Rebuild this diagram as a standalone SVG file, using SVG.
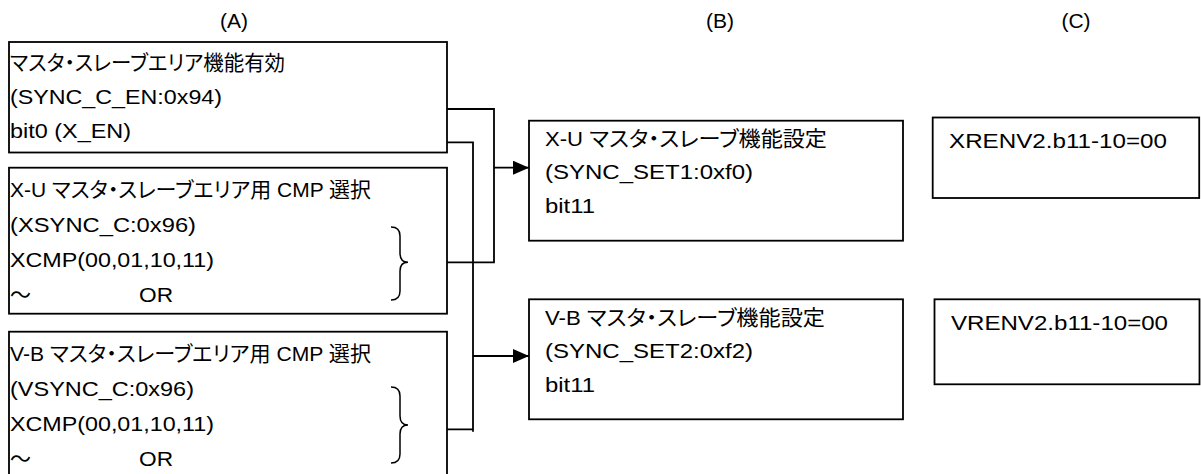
<svg xmlns="http://www.w3.org/2000/svg" width="1201" height="474" viewBox="0 0 1201 474">
<defs>
<style>
text{font-family:"Liberation Sans","Noto Sans CJK JP",sans-serif;fill:#000;font-size:21px;font-feature-settings:"palt"}
.lbl{text-anchor:middle}
.box{fill:#fff;stroke:#000;stroke-width:1.8}
.ln{fill:none;stroke:#000;stroke-width:1.8}
.br{fill:none;stroke:#000;stroke-width:1.5}
</style>
<marker id="arr" markerUnits="userSpaceOnUse" markerWidth="16" markerHeight="14" refX="16" refY="7" orient="auto">
<path d="M0,0 L16,7 L0,14 Z" fill="#000"/>
</marker>
</defs>
<rect width="1201" height="474" fill="#fff"/>
<g id="labels">
<text class="lbl" x="234" y="28">(A)</text>
<text class="lbl" x="720" y="28">(B)</text>
<text class="lbl" x="1076" y="28">(C)</text>
</g>
<g id="connectors">
<path class="ln" d="M447,109 H494 V262.3 H447"/>
<path class="ln" d="M447,142.3 H473 V431.7 M447,429.3 H473"/>
<path class="ln" d="M494,167.7 H529" marker-end="url(#arr)"/>
<path class="ln" d="M473,356 H529" marker-end="url(#arr)"/>
</g>
<g id="a1">
<rect class="box" x="9" y="42" width="438" height="110.5"/>
<text x="10" y="70" textLength="275" lengthAdjust="spacingAndGlyphs">マスタ・スレーブエリア機能有効</text>
<text x="10" y="104" textLength="212" lengthAdjust="spacingAndGlyphs">(SYNC_C_EN:0x94)</text>
<text x="10" y="138" textLength="121" lengthAdjust="spacingAndGlyphs">bit0 (X_EN)</text>
</g>
<g id="a2">
<rect class="box" x="9" y="167.7" width="438" height="146"/>
<text x="10" y="197" textLength="361" lengthAdjust="spacingAndGlyphs">X-U マスタ・スレーブエリア用 CMP 選択</text>
<text x="10" y="232" textLength="186" lengthAdjust="spacingAndGlyphs">(XSYNC_C:0x96)</text>
<text x="10" y="267" textLength="204" lengthAdjust="spacingAndGlyphs">XCMP(00,01,10,11)</text>
<text x="10" y="302">～</text>
<text x="139" y="302" textLength="34" lengthAdjust="spacingAndGlyphs">OR</text>
<path class="br" d="M391,227 Q400,227 400,236 V253 Q400,262.3 408,262.3 Q400,262.3 400,271 V291 Q400,300 391,300"/>
</g>
<g id="a3">
<rect class="box" x="9" y="331.7" width="438" height="160"/>
<text x="10" y="361" textLength="361" lengthAdjust="spacingAndGlyphs">V-B マスタ・スレーブエリア用 CMP 選択</text>
<text x="10" y="396" textLength="184" lengthAdjust="spacingAndGlyphs">(VSYNC_C:0x96)</text>
<text x="10" y="431" textLength="204" lengthAdjust="spacingAndGlyphs">XCMP(00,01,10,11)</text>
<text x="10" y="466">～</text>
<text x="139" y="466" textLength="34" lengthAdjust="spacingAndGlyphs">OR</text>
<path class="br" d="M391,387 Q400,387 400,396 V416 Q400,425 408,425 Q400,425 400,434 V454 Q400,463 391,463"/>
</g>
<g id="b1">
<rect class="box" x="529" y="120.7" width="374" height="120"/>
<text x="545" y="146" textLength="282" lengthAdjust="spacingAndGlyphs">X-U マスタ・スレーブ機能設定</text>
<text x="545" y="179" textLength="208" lengthAdjust="spacingAndGlyphs">(SYNC_SET1:0xf0)</text>
<text x="545" y="213" textLength="50" lengthAdjust="spacingAndGlyphs">bit11</text>
</g>
<g id="b2">
<rect class="box" x="529" y="299.3" width="374" height="120"/>
<text x="545" y="325" textLength="280" lengthAdjust="spacingAndGlyphs">V-B マスタ・スレーブ機能設定</text>
<text x="545" y="358" textLength="208" lengthAdjust="spacingAndGlyphs">(SYNC_SET2:0xf2)</text>
<text x="545" y="392" textLength="50" lengthAdjust="spacingAndGlyphs">bit11</text>
</g>
<g id="c1">
<rect class="box" x="932.7" y="117.5" width="266.5" height="80.5"/>
<text x="949" y="148" textLength="218" lengthAdjust="spacingAndGlyphs">XRENV2.b11-10=00</text>
</g>
<g id="c2">
<rect class="box" x="934.5" y="299.3" width="265" height="85"/>
<text x="951" y="330" textLength="217" lengthAdjust="spacingAndGlyphs">VRENV2.b11-10=00</text>
</g>
</svg>
